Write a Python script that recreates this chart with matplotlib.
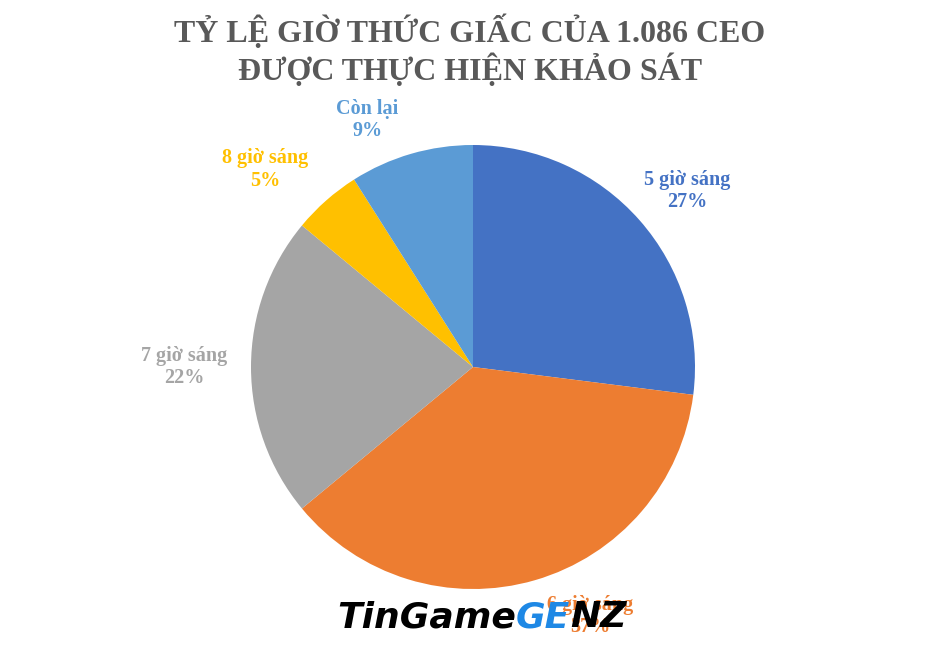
import numpy as np
import matplotlib.pyplot as plt

labels = ["5 giờ sáng", "6 giờ sáng", "7 giờ sáng", "8 giờ sáng", "Còn lại"]
shares = [27, 37, 22, 5, 9]
colors = ["#4472C4", "#ED7D31", "#A5A5A5", "#FFC000", "#5B9BD5"]
# label distance (in radii) and angle nudge (deg) from each slice's middle
label_dist = [1.25, 1.24, 1.30, 1.29, 1.21]
label_nudge = [-2, 9, 0, 5, 7]

serif = ["Liberation Serif", "DejaVu Serif"]

fig = plt.figure(figsize=(9.4, 6.46), dpi=100)
fig.patch.set_facecolor("white")

# pie area: centre about (473, 367) px, radius about 222 px
ax = fig.add_axes([(473 - 222) / 940, 1 - (367 + 222) / 646, 444 / 940, 444 / 646])
wedges, texts = ax.pie(shares, colors=colors, startangle=90, counterclock=False,
                       radius=1, wedgeprops=dict(linewidth=0))
ax.set_xlim(-1, 1)
ax.set_ylim(-1, 1)
ax.set_aspect("equal")
ax.axis("off")

for w, lab, val, col, d, n in zip(wedges, labels, shares, colors, label_dist, label_nudge):
    ang = np.deg2rad((w.theta1 + w.theta2) / 2 + n)
    ax.text(d * np.cos(ang), d * np.sin(ang), f"{lab}\n{val}%", color=col,
            ha="center", va="center", fontsize=14.5, fontweight="bold",
            family=serif, linespacing=1.15, clip_on=False, zorder=5)

fig.text(0.5, 1 - 14 / 646, "TỶ LỆ GIỜ THỨC GIẤC CỦA 1.086 CEO\nĐƯỢC THỰC HIỆN KHẢO SÁT",
         ha="center", va="top", fontsize=23, fontweight="bold", color="#595959",
         family=serif, linespacing=1.2)

# watermark
wy = 1 - 617 / 646
wm = fig.text(337 / 940, wy, "TinGame", ha="left", va="center",
              fontsize=26, fontweight="heavy", style="italic", color="black",
              family=["DejaVu Sans"], zorder=10)
fig.canvas.draw()
bb = wm.get_window_extent()
ge = fig.text(bb.x1 / 940, wy, "GE", ha="left", va="center",
              fontsize=26, fontweight="heavy", style="italic", color="#1E88E5",
              family=["DejaVu Sans"], zorder=10)
fig.canvas.draw()
bb2 = ge.get_window_extent()
fig.text(bb2.x1 / 940, wy, "NZ", ha="left", va="center",
         fontsize=26, fontweight="heavy", style="italic", color="black",
         family=["DejaVu Sans"], zorder=10)

fig.savefig("out.png", dpi=100)
